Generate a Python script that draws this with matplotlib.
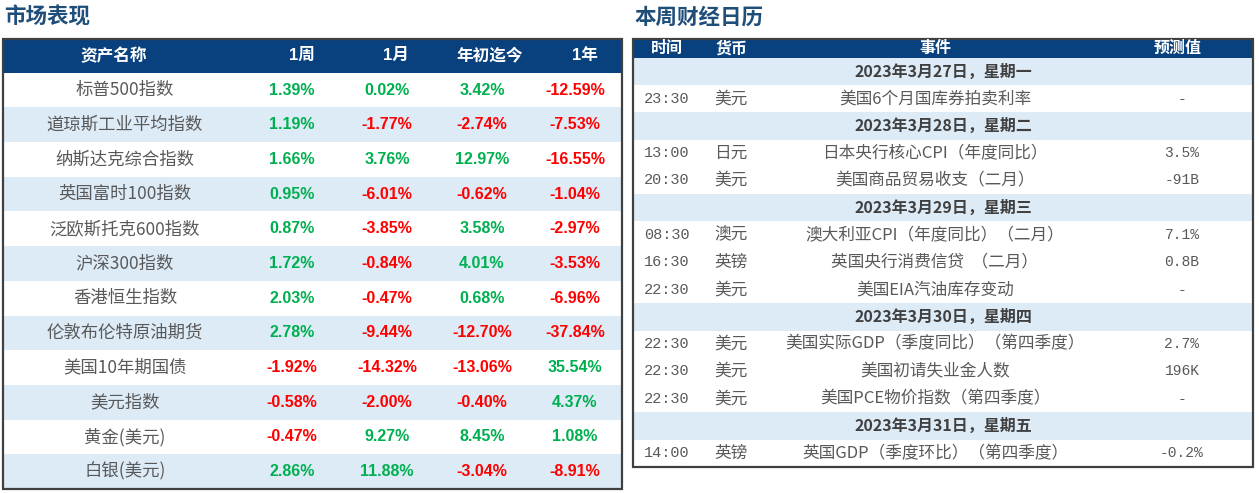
import matplotlib
matplotlib.use("Agg")
import matplotlib.pyplot as plt
from matplotlib.patches import Rectangle

plt.rcParams['font.family'] = ['Noto Sans CJK SC', 'DejaVu Sans']

# market table data
assets = ["标普500指数", "道琼斯工业平均指数", "纳斯达克综合指数", "英国富时100指数",
          "泛欧斯托克600指数", "沪深300指数", "香港恒生指数", "伦敦布伦特原油期货",
          "美国10年期国债", "美元指数", "黄金(美元)", "白银(美元)"]
week = [1.39, 1.19, 1.66, 0.95, 0.87, 1.72, 2.03, 2.78, -1.92, -0.58, -0.47, 2.86]
month = [0.02, -1.77, 3.76, -6.01, -3.85, -0.84, -0.47, -9.44, -14.32, -2.00, 9.27, 11.88]
ytd = [3.42, -2.74, 12.97, -0.62, 3.58, 4.01, 0.68, -12.70, -13.06, -0.40, 8.45, -3.04]
year = [-12.59, -7.53, -16.55, -1.04, -2.97, -3.53, -6.96, -37.84, 35.54, 4.37, 1.08, -8.91]
market_headers = ["资产名称", "1周", "1月", "年初迄今", "1年"]

# calendar data, date rows have None for time
cal_headers = ["时间", "货币", "事件", "预测值"]
cal_rows = [
    (None, None, "2023年3月27日，星期一", None),
    ("23:30", "美元", "美国6个月国库券拍卖利率", "-"),
    (None, None, "2023年3月28日，星期二", None),
    ("13:00", "日元", "日本央行核心CPI（年度同比）", "3.5%"),
    ("20:30", "美元", "美国商品贸易收支（二月）", "-91B"),
    (None, None, "2023年3月29日，星期三", None),
    ("08:30", "澳元", "澳大利亚CPI（年度同比）（二月）", "7.1%"),
    ("16:30", "英镑", "英国央行消费信贷  （二月）", "0.8B"),
    ("22:30", "美元", "美国EIA汽油库存变动", "-"),
    (None, None, "2023年3月30日，星期四", None),
    ("22:30", "美元", "美国实际GDP（季度同比）（第四季度）", "2.7%"),
    ("22:30", "美元", "美国初请失业金人数", "196K"),
    ("22:30", "美元", "美国PCE物价指数（第四季度）", "-"),
    (None, None, "2023年3月31日，星期五", None),
    ("14:00", "英镑", "英国GDP（季度环比）（第四季度）", "-0.2%"),
]

HEADER = "#08417E"
SHADE = "#DDEBF7"
TITLE = "#1F4E79"
GRAY = "#595959"
GREEN = "#00B050"
RED = "#FF0000"

fig = plt.figure(figsize=(12.59, 4.93), dpi=100)
ax = fig.add_axes([0, 0, 1, 1])
ax.set_xlim(0, 1259)
ax.set_ylim(493, 0)
ax.axis("off")

# ---- left table: market performance ----
ax.text(4, 17, "市场表现", fontsize=15.5, fontweight="bold", color=TITLE, va="center")

lx0, lx1 = 3, 622
top, head_h = 39, 33.7
row_h = (489 - top - head_h) / len(assets)
ax.add_patch(Rectangle((lx0, top), lx1 - lx0, head_h, color=HEADER, lw=0))
head_x = [114, 302, 396, 490, 585]
for x, h in zip(head_x, market_headers):
    ax.text(x, top + head_h / 2, h, color="white", fontsize=12, fontweight="bold",
            ha="center", va="center", family=["Liberation Sans", "Noto Sans CJK SC"])

val_x = [292, 387, 482, 575]
for i, name in enumerate(assets):
    y0 = top + head_h + i * row_h
    if i % 2 == 1:
        ax.add_patch(Rectangle((lx0, y0), lx1 - lx0, row_h, color=SHADE, lw=0))
    yc = y0 + row_h / 2
    ax.text(125, yc, name, color=GRAY, fontsize=12.5, ha="center", va="center")
    for x, v in zip(val_x, (week[i], month[i], ytd[i], year[i])):
        ax.text(x, yc, f"{v:.2f}%", color=GREEN if v >= 0 else RED, fontsize=11.5,
                fontweight="bold", ha="center", va="center", family="Liberation Sans")
ax.add_patch(Rectangle((lx0, top), lx1 - lx0, 489 - top, fill=False,
                       edgecolor="#404040", lw=1.6))

# ---- right table: weekly calendar ----
ax.text(635, 17, "本周财经日历", fontsize=15.5, fontweight="bold", color=TITLE, va="center")

rx0, rx1 = 633, 1253
chead_h = 18.7
crow_h = (467 - top - chead_h) / len(cal_rows)
ax.add_patch(Rectangle((rx0, top), rx1 - rx0, chead_h, color=HEADER, lw=0))
cal_x = [667, 731, 935, 1178]
for x, h in zip(cal_x, cal_headers):
    ax.text(x, top + chead_h / 2, h, color="white", fontsize=11.5, fontweight="bold",
            ha="center", va="center")

for i, (t, cur, ev, fc) in enumerate(cal_rows):
    y0 = top + chead_h + i * crow_h
    yc = y0 + crow_h / 2
    if t is None:
        ax.add_patch(Rectangle((rx0, y0), rx1 - rx0, crow_h, color=SHADE, lw=0))
        ax.text((rx0 + rx1) / 2, yc, ev, color="#404040", fontsize=11.5,
                fontweight="bold", ha="center", va="center")
        continue
    ax.text(cal_x[0], yc, t, color=GRAY, fontsize=11, ha="center", va="center",
            family=["Liberation Mono", "Noto Sans CJK SC"])
    ax.text(cal_x[1], yc, cur, color=GRAY, fontsize=12, ha="center", va="center")
    ax.text(cal_x[2], yc, ev, color=GRAY, fontsize=12, ha="center", va="center")
    ax.text(1182, yc, fc, color=GRAY, fontsize=10.5, ha="center", va="center",
            family=["Liberation Mono", "Noto Sans CJK SC"])
ax.add_patch(Rectangle((rx0, top), rx1 - rx0, 467 - top, fill=False,
                       edgecolor="#404040", lw=1.6))

fig.savefig("out.png", dpi=100)
